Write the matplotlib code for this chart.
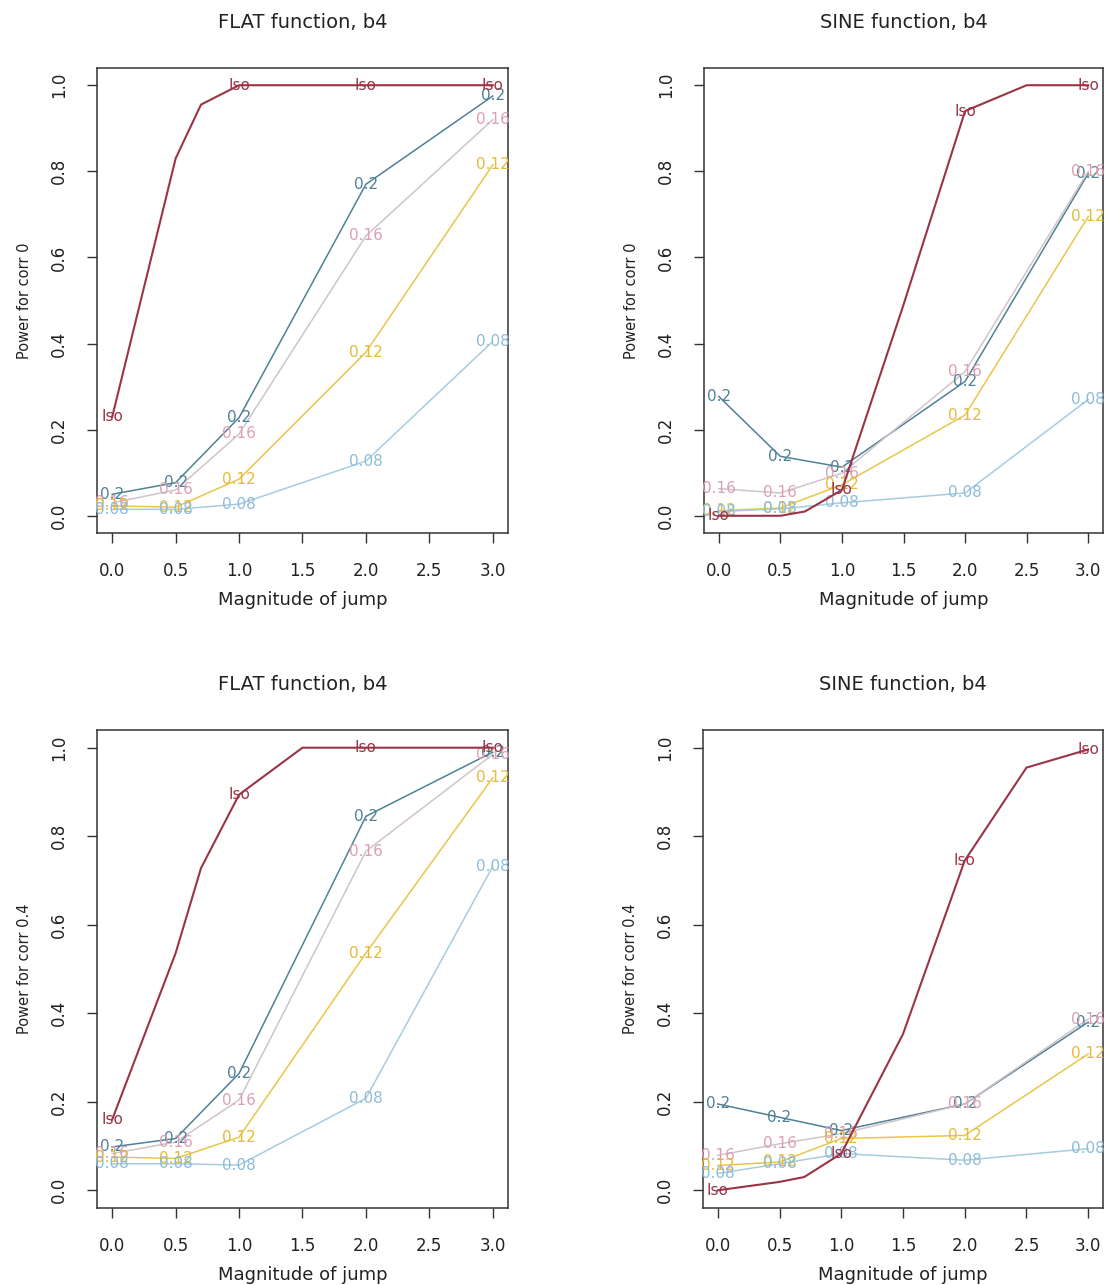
import matplotlib
matplotlib.use("Agg")
import matplotlib.pyplot as plt

plt.rcParams['font.family'] = ['DejaVu Sans']

# x positions
x_iso = [0, 0.5, 0.7, 1, 1.5, 2, 2.5, 3]
x_bw = [0, 0.5, 1, 2, 3]
iso_label_idx = [0, 3, 5, 7]

bandwidths = ["0.2", "0.16", "0.12", "0.08"]
colors = {"Iso": "#9a3446", "0.2": "#4f8197", "0.16": "#dca0b2",
          "0.12": "#e4bb3a", "0.08": "#8dbcd9"}
line_colors = {"Iso": "#9a3446", "0.2": "#4f8197", "0.16": "#d0c4c8",
               "0.12": "#e8c64a", "0.08": "#a6cce0"}

# FLAT, corr 0
flat0_iso = [0.23, 0.83, 0.955, 1.0, 1.0, 1.0, 1.0, 1.0]
flat0 = {"0.2": [0.05, 0.077, 0.228, 0.77, 0.975],
         "0.16": [0.03, 0.06, 0.19, 0.65, 0.92],
         "0.12": [0.023, 0.02, 0.085, 0.38, 0.815],
         "0.08": [0.015, 0.015, 0.027, 0.127, 0.405]}

# SINE, corr 0
sine0_iso = [0.0, 0.0, 0.01, 0.06, 0.49, 0.94, 1.0, 1.0]
sine0 = {"0.2": [0.277, 0.138, 0.113, 0.312, 0.795],
         "0.16": [0.063, 0.053, 0.099, 0.335, 0.8],
         "0.12": [0.012, 0.018, 0.072, 0.234, 0.695],
         "0.08": [0.01, 0.016, 0.03, 0.053, 0.27]}

# FLAT, corr 0.4
flat4_iso = [0.16, 0.536, 0.728, 0.894, 1.0, 1.0, 1.0, 1.0]
flat4 = {"0.2": [0.098, 0.117, 0.264, 0.845, 0.99],
         "0.16": [0.083, 0.109, 0.204, 0.766, 0.985],
         "0.12": [0.075, 0.072, 0.12, 0.536, 0.932],
         "0.08": [0.06, 0.06, 0.057, 0.208, 0.732]}

# SINE, corr 0.4
sine4_iso = [0.0, 0.019, 0.03, 0.083, 0.353, 0.745, 0.955, 0.996]
sine4 = {"0.2": [0.195, 0.165, 0.135, 0.195, 0.38],
         "0.16": [0.079, 0.105, 0.128, 0.195, 0.387],
         "0.12": [0.056, 0.064, 0.117, 0.124, 0.308],
         "0.08": [0.038, 0.06, 0.083, 0.068, 0.094]}

panels = [
    ("FLAT function, b4", "Power for corr 0", flat0_iso, flat0),
    ("SINE function, b4", "Power for corr 0", sine0_iso, sine0),
    ("FLAT function, b4", "Power for corr 0.4", flat4_iso, flat4),
    ("SINE function, b4", "Power for corr 0.4", sine4_iso, sine4),
]

W, H = 1108, 1285
fig = plt.figure(figsize=(W / 100, H / 100), dpi=100)
fig.patch.set_facecolor("white")

# axes boxes in pixels: left, top, right, bottom
boxes = [(97, 68, 508, 533), (704, 68, 1103, 533),
         (97, 730, 508, 1208), (703, 730, 1103, 1208)]

for (title, ylab, iso, bw), (l, t, r, b) in zip(panels, boxes):
    ax = fig.add_axes([l / W, 1 - b / H, (r - l) / W, (b - t) / H])
    for k in bandwidths:
        ax.plot(x_bw, bw[k], color=line_colors[k], lw=1.1, zorder=2)
        for xi, yi in zip(x_bw, bw[k]):
            ax.text(xi, yi, k, color=colors[k], fontsize=11, ha="center",
                    va="center", zorder=3)
    ax.plot(x_iso, iso, color=line_colors["Iso"], lw=1.5, zorder=4)
    for i in iso_label_idx:
        ax.text(x_iso[i], iso[i], "Iso", color=colors["Iso"], fontsize=11,
                ha="center", va="center", zorder=5)

    ax.set_xlim(-0.12, 3.12)
    ax.set_ylim(-0.04, 1.04)
    ax.set_xticks([0, 0.5, 1, 1.5, 2, 2.5, 3])
    ax.set_xticklabels(["0.0", "0.5", "1.0", "1.5", "2.0", "2.5", "3.0"])
    ax.set_yticks([0, 0.2, 0.4, 0.6, 0.8, 1.0])
    ax.set_yticklabels(["0.0", "0.2", "0.4", "0.6", "0.8", "1.0"],
                       rotation=90, va="center")
    ax.tick_params(direction="out", length=7, width=1, labelsize=12,
                   color="#333333", labelcolor="#222222", pad=14)
    for s in ax.spines.values():
        s.set_color("#333333")
        s.set_linewidth(1.1)
    ax.set_title(title, fontsize=14, color="#222222", pad=29)
    ax.set_xlabel("Magnitude of jump", fontsize=13, color="#222222", labelpad=8)
    ax.set_ylabel(ylab, fontsize=10.5, color="#222222", labelpad=13)

fig.savefig("out.png", dpi=100)
